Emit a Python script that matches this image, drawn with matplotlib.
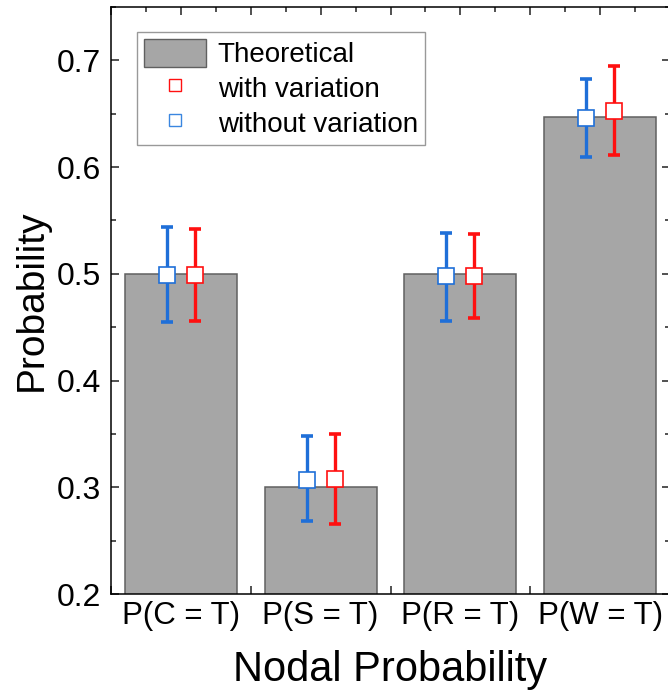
import numpy as np
import matplotlib
matplotlib.use("Agg")
import matplotlib.pyplot as plt
from matplotlib.ticker import MultipleLocator, FuncFormatter
from matplotlib.lines import Line2D
from matplotlib.patches import Patch

plt.rcParams['font.family'] = ['Liberation Sans', 'DejaVu Sans']

# ---------- data ----------
categories = ["P(C = T)", "P(S = T)", "P(R = T)", "P(W = T)"]
theoretical = [0.5, 0.3, 0.5, 0.647]

# without variation (blue)
wo_mean = [0.499, 0.307, 0.498, 0.646]
wo_low = [0.455, 0.268, 0.456, 0.609]
wo_high = [0.544, 0.348, 0.538, 0.683]

# with variation (red)
w_mean = [0.499, 0.308, 0.498, 0.653]
w_low = [0.456, 0.266, 0.459, 0.611]
w_high = [0.542, 0.350, 0.537, 0.695]

BLUE = "#1f6fd8"
RED = "#ff1010"
GRAY = "#a6a6a6"

fig = plt.figure(figsize=(6.68, 6.96), dpi=100)
ax = fig.add_axes([111/668, 102/696, 559/668, 587/696])

x = np.arange(1, len(categories) + 1)
ax.bar(x, theoretical, width=0.8, color=GRAY, edgecolor="#606060", linewidth=1.1, zorder=1)

off = 0.1
# error bars first, markers on top
for xs, m, lo, hi, c in ((x - off, wo_mean, wo_low, wo_high, BLUE),
                         (x + off, w_mean, w_low, w_high, RED)):
    m = np.array(m)
    yerr = [m - np.array(lo), np.array(hi) - m]
    ax.errorbar(xs, m, yerr=yerr, fmt="none", ecolor=c, elinewidth=2.4,
                capsize=4.5, capthick=2.6, zorder=3)
    ax.plot(xs, m, "s", ms=11, mfc="white", mec=c, mew=1.2, ls="none", zorder=4)

ax.set_xlim(0.5, 4.5)
ax.set_ylim(0.2, 0.75)
ax.set_axisbelow(True)

ax.xaxis.set_major_locator(MultipleLocator(0.5))
ax.xaxis.set_minor_locator(MultipleLocator(0.25))
lab = dict(zip(x, categories))
ax.xaxis.set_major_formatter(FuncFormatter(
    lambda v, p: lab.get(int(round(v)), "") if abs(v - round(v)) < 1e-6 else ""))
ax.yaxis.set_major_locator(MultipleLocator(0.1))
ax.yaxis.set_minor_locator(MultipleLocator(0.05))
ax.yaxis.set_major_formatter(FuncFormatter(lambda v, p: f"{v:.1f}"))

ax.tick_params(which="both", direction="in", top=True, right=True, width=1.1, color="#222222")
ax.tick_params(which="major", length=6)
ax.tick_params(which="minor", length=3.5)
ax.tick_params(axis="x", which="major", labelsize=22.5, pad=5)
ax.tick_params(axis="y", which="major", labelsize=23, pad=7)
for s in ax.spines.values():
    s.set_linewidth(1.1)

ax.set_xlabel("Nodal Probability", fontsize=30, labelpad=14)
ax.set_ylabel("Probability", fontsize=28, labelpad=5)

handles = [Patch(facecolor=GRAY, edgecolor="#606060", linewidth=1.0),
           Line2D([], [], marker="s", ms=8.5, mfc="white", mec=RED, mew=1.0, ls="none"),
           Line2D([], [], marker="s", ms=8.5, mfc="white", mec="#3a86e0", mew=1.0, ls="none")]
leg = ax.legend(handles, ["Theoretical", "with variation", "without variation"],
                loc="upper left", bbox_to_anchor=(26/559, 1 - 25/587), borderaxespad=0,
                fontsize=20, handlelength=2.25, handleheight=1.15, handletextpad=0.4,
                labelspacing=0.2, borderpad=0.25, frameon=True, fancybox=False)
leg.get_frame().set_edgecolor("#808080")
leg.get_frame().set_linewidth(1.0)

fig.savefig("out.png", dpi=100)
